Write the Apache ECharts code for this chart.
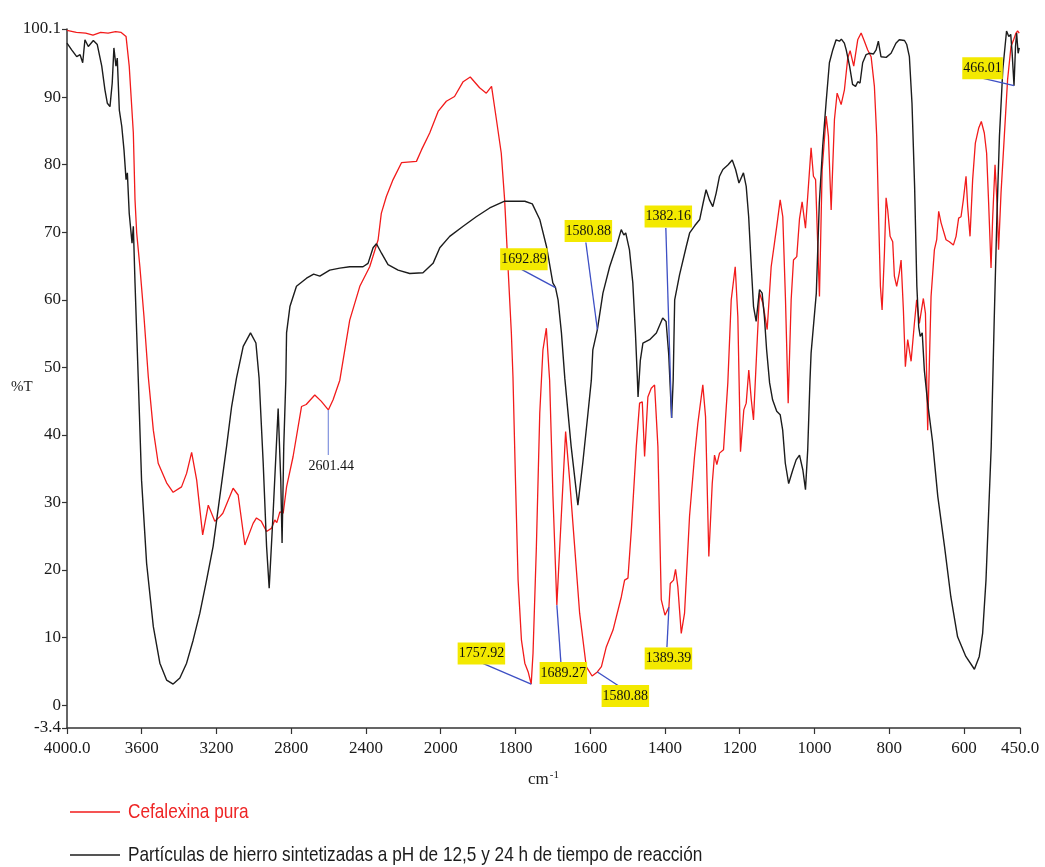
<!DOCTYPE html>
<html>
<head>
<meta charset="utf-8">
<title>FTIR – Cefalexina</title>
<script src="https://cdn.jsdelivr.net/npm/echarts@6/dist/echarts.min.js"></script>
<style>
  html, body { margin: 0; padding: 0; background: #fff; }
  #chart { width: 1045px; height: 867px; }
</style>
</head>
<body>
<div id="chart"></div>
<script>
// Wavenumber (cm-1) and transmittance (%T) for each spectrum
const cefalexinaWn = [4000,3950,3900,3861,3820,3780,3740,3710,3700,3684,3667,3645,3636,3627,3610,3588,3565,3538,3512,3467,3432,3387,3360,3333,3306,3274,3244,3209,3182,3166,3111,3084,3048,3040,3004,2986,2960,2932,2905,2888,2877,2861,2843,2825,2790,2745,2720,2674,2640,2601.44,2576,2540,2487,2433,2380,2335,2318,2291,2255,2210,2130,2103,2059,2014,1985,1963,1940,1921,1896,1878,1864,1851,1838,1829,1820,1811,1806.7,1800,1793,1784,1775,1766,1757.92,1753,1744,1735,1726.5,1717.4,1711,1708.6,1699.7,1689.27,1677,1665.8,1655,1641.7,1628.3,1610.6,1595,1580.88,1570,1557,1539,1516.8,1508,1499,1490,1476.7,1467.9,1460.7,1454.5,1445.7,1436.7,1427.8,1418.9,1409.9,1400,1389.39,1385.8,1377,1371.7,1365.5,1356.4,1347.6,1334.2,1320.9,1312,1298.7,1291.4,1282.6,1273.5,1267.4,1261.2,1254,1243.3,1231.8,1222.7,1212,1205,1197.9,1189,1182.6,1175.7,1169,1163.1,1154.3,1147,1138,1126.5,1115.8,1107,1100.8,1091.7,1084.7,1077.5,1070.3,1062.3,1056.1,1047.3,1040,1033,1024,1009,1002.7,997,986.6,979.4,968.7,962.6,955.3,946.5,939.3,928.6,919.8,910.9,904.5,894.9,884.2,875.1,866.3,857.5,848.4,839.6,833.4,828.1,823.5,819,812.8,808.3,804,797.6,790.6,786.1,780,773,768.2,762,756.7,750.5,741.4,732.6,726.5,719.3,708.6,703,697,688,679.1,672.9,667.6,661.2,647.9,639,628.3,621.1,614.2,607.8,601.6,594.4,590,583.7,576.7,569.5,560.7,553.5,545.5,539.3,533.9,527.5,523.3,516.8,511.5,507.3,500.8,492,483.2,474.1,467.1,460.7,456.4,452];
const cefalexinaT = [99.9,99.6,99.5,99.2,99.6,99.5,99.7,99.6,99.4,99.0,94.6,84.7,74.8,69.9,64.9,57.5,48.6,40.7,35.8,32.9,31.5,32.3,34.3,37.4,33.3,25.2,29.6,27.2,27.9,28.4,32.1,31.1,23.7,23.8,26.9,27.7,27.2,25.7,26.2,27.4,27.0,28.6,28.4,32.3,36.8,44.2,44.5,45.9,45.0,43.7,45.2,48.1,57.0,62.0,64.9,68.9,72.8,75.3,77.8,80.3,80.5,82.2,84.7,87.9,89.4,90.1,92.3,93.0,91.4,90.6,91.6,86.7,81.7,74.8,64.9,55.1,48.6,33.3,18.5,9.6,6.2,4.9,3.1,7.7,23.5,43.2,52.6,55.8,50.1,48.1,30.9,14.8,28.4,40.5,33.3,23.5,13.6,5.7,4.3,4.9,5.7,8.6,11.1,16.0,18.5,18.8,25.9,38.3,44.7,44.9,36.8,45.6,46.9,47.4,38.3,15.6,13.3,14.5,18.0,18.5,20.1,17.5,10.6,13.6,28.0,36.8,41.7,47.4,42.7,22.0,32.8,37.0,35.6,37.3,37.8,47.7,60.0,64.9,57.5,37.5,43.7,44.7,49.6,45.2,42.2,52.6,61.0,59.5,55.6,64.9,68.4,70.9,74.8,72.3,60.0,44.7,60.0,65.9,66.4,72.0,74.5,70.6,82.5,78.3,77.8,60.5,79.3,87.2,84.2,73.3,86.7,90.6,88.9,91.1,95.8,96.9,94.6,98.5,99.5,98.3,97.0,96.0,91.6,84.2,71.9,62.0,58.5,66.9,75.1,73.3,69.4,68.6,63.5,62.0,64.0,65.9,58.5,50.1,54.1,50.9,56.5,60.0,56.5,60.2,58.0,40.7,60.5,67.4,68.9,73.1,71.4,68.9,68.6,68.1,69.4,72.1,72.3,74.8,78.3,73.8,69.4,77.8,83.2,85.4,86.4,84.7,81.7,74.3,64.7,71.9,80.0,74.3,67.4,75.8,84.2,92.6,97.5,98.5,99.5,99.8,99.5];

const hierroWn = [4000,3975,3948,3930,3916,3904,3886,3859,3838,3814,3797,3784,3770,3758,3749,3738,3731,3720,3707,3695,3684,3677,3667,3652,3645,3636,3627,3619,3601,3574,3538,3503,3467,3432,3396,3360,3325,3289,3253,3218,3182,3146,3119,3093,3057,3018,2989,2972,2950,2932,2918,2897,2870,2856,2849,2840,2829,2825,2807,2772,2718,2680,2647,2594,2540,2487,2416,2389,2362,2344,2317,2282,2228,2166,2095,2041,2005,1976,1940,1905,1869,1829,1775,1755,1735,1717,1700,1692.89,1686,1677,1668,1651,1633,1620,1606,1597,1593,1580.88,1566,1548,1530,1517,1510,1505,1495,1486,1479,1474,1472,1466,1459,1441,1423,1406,1397,1390,1382.16,1378,1374,1361,1343,1334,1320,1307,1298,1290,1281,1272,1263,1254,1245,1231,1220,1211,1202,1190,1182.6,1176,1169,1163,1156,1147,1140,1134,1128,1120,1112,1101,1091.7,1085,1078,1069,1058,1049,1040,1031,1024,1018,1012,1009,995,987,978,969,960,951,942,933,928,920,915,906,898,890,884,878,871,862,853,842,835,829,822,808,795,782,773,759,753,746,739,732,726,721,717,711.6,706,697,684,670,652,635,617,595,572,559,550,541,534,527,519,512,505,496,486,480,474.8,471,466.01,462,459,455,452];
const hierroT = [98.0,97.0,96.0,96.3,95.1,98.5,97.5,98.4,97.8,94.6,91.1,89.1,88.6,92.1,97.3,94.6,95.8,88.1,85.7,82.2,77.8,78.8,72.8,68.4,70.9,62.5,55.1,48.6,33.3,21.0,11.6,6.2,3.7,3.1,4.0,6.2,9.6,13.6,18.5,23.5,30.9,38.3,44.2,48.4,53.1,55.1,53.6,48.4,35.8,23.5,17.3,28.4,43.9,33.3,24.0,38.3,48.1,55.1,59.0,62.0,63.2,63.8,63.5,64.4,64.7,64.9,64.9,65.4,67.7,68.3,66.9,65.2,64.4,63.9,64.0,65.4,67.7,69.4,70.9,72.3,73.6,74.6,74.6,74.2,71.9,67.9,62.5,61.8,60.0,55.1,48.4,38.3,29.6,35.8,43.2,48.1,52.6,55.6,61.0,64.9,67.9,70.4,69.6,69.9,67.4,62.5,55.1,48.6,45.6,51.0,53.6,54.1,55.1,57.3,56.8,52.0,42.5,48.1,60.0,63.7,67.9,69.9,71.0,71.9,74.3,76.3,74.8,73.8,75.8,78.3,79.3,80.0,80.7,79.3,77.3,78.8,76.8,72.3,64.9,59.0,56.8,61.5,61.0,57.5,52.6,47.7,45.2,43.5,43.0,40.7,35.8,32.8,34.8,36.3,37.0,34.8,31.9,37.8,48.0,52.1,61.0,74.3,82.7,89.1,95.1,97.0,98.5,98.3,98.6,98.0,97.0,94.6,91.9,91.6,92.3,92.1,95.1,96.3,96.5,96.4,97.0,98.3,96.0,95.9,96.5,98.0,98.5,98.4,97.8,96.0,89.1,76.8,62.0,56.0,54.6,55.1,49.6,44.7,39.0,30.9,23.5,16.0,10.1,7.2,5.3,7.2,10.6,18.5,28.4,38.3,57.0,71.9,84.2,94.1,99.8,99.0,99.3,96.5,91.7,97.5,99.5,96.5,97.3];

// Axis ticks
const xTickValues = [4000,3600,3200,2800,2400,2000,1800,1600,1400,1200,1000,800,600,450];
const xTickLabels = ['4000.0','3600','3200','2800','2400','2000','1800','1600','1400','1200','1000','800','600','450.0'];
const yTickValues = [-3.4,0,10,20,30,40,50,60,70,80,90,100.1];
const yTickLabels = ['-3.4','0','10','20','30','40','50','60','70','80','90','100.1'];

// Marked bands: wavenumber and %T on the corresponding trace
const peakWn = [2601.44,1692.89,1580.88,1382.16,1757.92,1689.27,1580.88,1389.39,466.01];
const peakT  = [43.7,61.8,55.6,42.5,3.1,14.8,4.9,14.5,91.7];

// Label placement for each band (pixel offsets from the marked point)
const peakLayout = [
  { lx: 0,     ly: 45,   cx: 3,     cy: 56,    hl: false },
  { lx: -33.6, ly: -18,  cx: -31.6, cy: -28.5, hl: true },
  { lx: -11.5, ly: -87,  cx: -9,    cy: -98.5, hl: true },
  { lx: -5.8,  ly: -190, cx: -3.3,  cy: -201.5,hl: true },
  { lx: -51.3, ly: -22,  cx: -49.8, cy: -30.5, hl: true },
  { lx: 4,     ly: 57,   cx: 6.5,   cy: 68,    hl: true },
  { lx: 24.5,  ly: 16,   cx: 28,    cy: 24,    hl: true },
  { lx: -2,    ly: 40,   cx: -0.5,  cy: 51.5,  hl: true },
  { lx: -34,   ly: -8,   cx: -31.5, cy: -17.5, hl: true }
];

// Split wavenumber scale: 4000–2000 compressed, 2000–450 expanded two-fold
const toPos = w => (w >= 2000 ? 4000 - w : 2000 + 2 * (2000 - w));
const fromPos = u => (u <= 2000 ? 4000 - u : 2000 - (u - 2000) / 2);

const serif = '"Liberation Serif", "Times New Roman", serif';

const chart = echarts.init(document.getElementById('chart'), null, { renderer: 'canvas' });

chart.setOption({
  animation: false,
  backgroundColor: '#ffffff',
  grid: { left: 67, right: 25, top: 29, bottom: 139 },
  xAxis: {
    type: 'value',
    min: 0,
    max: toPos(450),
    splitLine: { show: false },
    axisLine: { onZero: false, lineStyle: { color: '#333', width: 1.5 } },
    axisTick: { customValues: xTickValues.map(toPos), length: 6, lineStyle: { color: '#333', width: 1.2 } },
    axisLabel: {
      customValues: xTickValues.map(toPos),
      formatter: v => xTickLabels[xTickValues.indexOf(Math.round(fromPos(v)))],
      fontFamily: serif, fontSize: 17, color: '#1a1a1a', margin: 12
    },
    name: '{a|cm}{b|-1}',
    nameLocation: 'middle',
    nameGap: 42,
    nameTextStyle: {
      rich: {
        a: { fontFamily: serif, fontSize: 17, color: '#1a1a1a' },
        b: { fontFamily: serif, fontSize: 11, color: '#1a1a1a', verticalAlign: 'top', padding: [0, 0, 9, 1] }
      }
    }
  },
  yAxis: {
    type: 'value',
    min: -3.4,
    max: 100.1,
    splitLine: { show: false },
    axisLine: { onZero: false, lineStyle: { color: '#333', width: 1.5 } },
    axisTick: { customValues: yTickValues, length: 5, lineStyle: { color: '#333', width: 1.2 } },
    axisLabel: {
      customValues: yTickValues,
      formatter: v => yTickLabels[yTickValues.indexOf(v)],
      fontFamily: serif, fontSize: 17, color: '#1a1a1a', margin: 6
    }
  },
  series: [
    {
      name: 'Cefalexina pura',
      type: 'line',
      showSymbol: false,
      smooth: false,
      lineStyle: { color: '#f21b1b', width: 1.3 },
      itemStyle: { color: '#f21b1b' },
      data: cefalexinaWn.map((w, i) => [toPos(w), cefalexinaT[i]])
    },
    {
      name: 'Partículas de hierro sintetizadas a pH de 12,5 y 24 h de tiempo de reacción',
      type: 'line',
      showSymbol: false,
      smooth: false,
      lineStyle: { color: '#1c1c1c', width: 1.4 },
      itemStyle: { color: '#1c1c1c' },
      data: hierroWn.map((w, i) => [toPos(w), hierroT[i]])
    },
    {
      type: 'custom',
      clip: false,
      z: 10,
      data: peakWn.map((w, i) => [toPos(w), peakT[i], i]),
      renderItem: (params, api) => {
        const p = api.coord([api.value(0), api.value(1)]);
        const i = api.value(2);
        const L = peakLayout[i];
        return {
          type: 'group',
          children: [
            {
              type: 'line',
              shape: { x1: p[0], y1: p[1], x2: p[0] + L.lx, y2: p[1] + L.ly },
              style: { stroke: L.hl ? '#3d4fc4' : '#8a9ae0', lineWidth: 1.3 }
            },
            {
              type: 'text',
              x: p[0] + L.cx,
              y: p[1] + L.cy,
              style: {
                text: peakWn[i].toFixed(2),
                fill: '#111',
                fontFamily: serif,
                fontSize: 14,
                align: 'center',
                verticalAlign: 'middle',
                backgroundColor: L.hl ? '#f3e900' : 'transparent',
                padding: [4, 1, 4, 1]
              }
            }
          ]
        };
      }
    }
  ],
  graphic: [
    {
      type: 'text', left: 11, top: 380,
      style: { text: '%T', fontFamily: serif, fontSize: 15, fill: '#1a1a1a' }
    },
    {
      type: 'line', shape: { x1: 70, y1: 812, x2: 120, y2: 812 },
      style: { stroke: '#f21b1b', lineWidth: 1.5 }
    },
    {
      type: 'text', x: 128, y: 812, scaleX: 0.82,
      style: { text: 'Cefalexina pura', fontFamily: '"Liberation Sans", Arial, sans-serif', fontSize: 21, fill: '#ee2424', verticalAlign: 'middle' }
    },
    {
      type: 'line', shape: { x1: 70, y1: 855, x2: 120, y2: 855 },
      style: { stroke: '#1c1c1c', lineWidth: 1.5 }
    },
    {
      type: 'text', x: 128, y: 855, scaleX: 0.82,
      style: { text: 'Partículas de hierro sintetizadas a pH de 12,5 y 24 h de tiempo de reacción', fontFamily: '"Liberation Sans", Arial, sans-serif', fontSize: 21, fill: '#1c1c1c', verticalAlign: 'middle' }
    }
  ]
});
</script>
</body>
</html>
